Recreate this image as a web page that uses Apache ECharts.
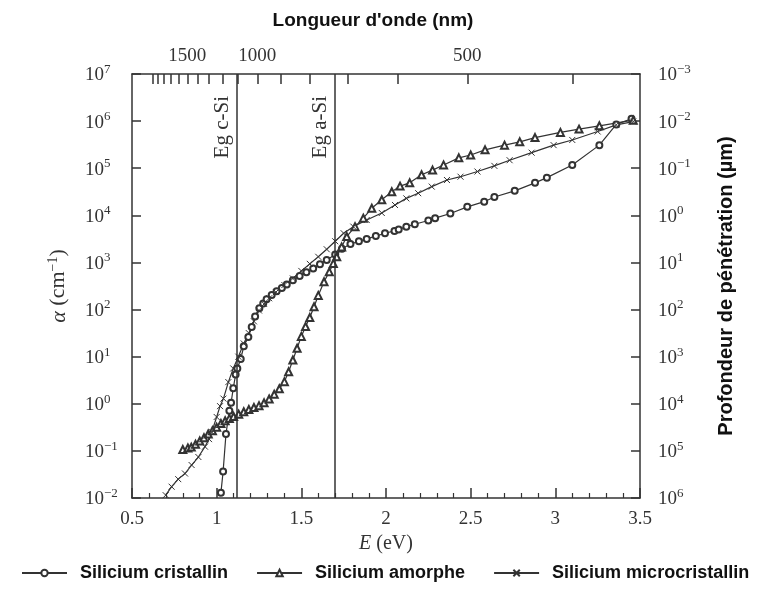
<!DOCTYPE html>
<html>
<head>
<meta charset="utf-8">
<script src="https://cdn.jsdelivr.net/npm/echarts@6/dist/echarts.min.js"></script>
<style>html,body{margin:0;padding:0;background:#fff;}#c{width:765px;height:592px;}</style>
</head>
<body>
<div id="c"></div>
<script>
// ---- data (E in eV, log10 of alpha in cm^-1) ----
const cSiE = [1.025,1.038,1.055,1.075,1.085,1.098,1.112,1.122,1.142,1.16,1.187,1.207,1.227,1.252,1.275,1.295,1.325,1.354,1.385,1.414,1.45,1.49,1.53,1.57,1.61,1.65,1.70,1.74,1.79,1.84,1.886,1.94,1.994,2.05,2.075,2.12,2.17,2.25,2.29,2.38,2.48,2.58,2.64,2.76,2.88,2.95,3.10,3.26,3.36,3.45];
const cSiLogA = [-1.89,-1.44,-0.64,-0.15,0.02,0.33,0.62,0.75,0.95,1.22,1.42,1.63,1.85,2.03,2.13,2.22,2.31,2.39,2.46,2.53,2.62,2.71,2.79,2.87,2.96,3.05,3.17,3.29,3.39,3.45,3.50,3.56,3.62,3.67,3.70,3.76,3.81,3.89,3.94,4.04,4.18,4.29,4.39,4.52,4.69,4.80,5.07,5.49,5.93,6.05];

const aSiE = [0.80,0.83,0.85,0.875,0.90,0.925,0.95,0.975,1.00,1.025,1.05,1.075,1.10,1.13,1.16,1.19,1.22,1.25,1.28,1.31,1.34,1.37,1.40,1.425,1.45,1.475,1.50,1.525,1.55,1.575,1.60,1.634,1.665,1.689,1.709,1.738,1.768,1.817,1.866,1.916,1.975,2.034,2.083,2.14,2.21,2.275,2.34,2.43,2.50,2.585,2.70,2.79,2.88,3.03,3.14,3.26,3.46];
const aSiLogA = [-0.97,-0.94,-0.92,-0.86,-0.79,-0.72,-0.64,-0.57,-0.50,-0.42,-0.36,-0.31,-0.27,-0.22,-0.17,-0.12,-0.08,-0.04,0.02,0.10,0.20,0.32,0.47,0.68,0.93,1.18,1.43,1.64,1.83,2.06,2.30,2.59,2.80,2.98,3.12,3.33,3.55,3.76,3.94,4.15,4.33,4.50,4.62,4.69,4.86,4.96,5.07,5.22,5.28,5.39,5.49,5.56,5.65,5.76,5.83,5.90,6.02];

const ucSiE = [0.699,0.734,0.773,0.813,0.852,0.892,0.931,0.955,0.971,1.0,1.02,1.04,1.069,1.098,1.128,1.16,1.19,1.22,1.25,1.28,1.31,1.35,1.40,1.45,1.50,1.55,1.60,1.65,1.70,1.75,1.807,1.886,1.975,2.053,2.12,2.19,2.27,2.36,2.44,2.54,2.64,2.73,2.86,2.99,3.10,3.25,3.36,3.46];
const ucSiLogA = [-1.94,-1.76,-1.60,-1.48,-1.30,-1.13,-0.91,-0.75,-0.60,-0.28,-0.05,0.11,0.46,0.75,1.0,1.28,1.50,1.75,1.98,2.12,2.24,2.37,2.52,2.66,2.82,2.97,3.12,3.28,3.45,3.62,3.76,3.90,4.05,4.22,4.36,4.47,4.61,4.75,4.82,4.93,5.05,5.17,5.33,5.49,5.60,5.78,5.92,5.99];

const seriesNames = ['Silicium cristallin', 'Silicium amorphe', 'Silicium microcristallin'];
const gapE = [1.12, 1.7];
const gapLabels = ['Eg c-Si', 'Eg a-Si'];
const wavelengthTicks = [400,500,600,700,800,900,1000,1100,1200,1300,1400,1500,1600,1700,1800,1900,2000];
const wavelengthLabels = [1500, 1000, 500];
const HC = 1240; // eV·nm

function pts(E, L) { return E.map((e, i) => [e, Math.pow(10, L[i])]); }

const SERIF = '"Liberation Serif","DejaVu Serif",serif';
const SANS = '"Liberation Sans",Arial,sans-serif';
const INK = '#333';

function powLabel(v) {
  const e = Math.round(Math.log10(v));
  const s = (e < 0 ? '\u2212' + (-e) : '' + e);
  return '{b|10}{s|' + s + '}';
}
const powRich = {
  b: { fontSize: 19, fontFamily: SERIF, color: INK, verticalAlign: 'bottom' },
  s: { fontSize: 13, fontFamily: SERIF, color: INK, verticalAlign: 'bottom', padding: [0, 0, 9, 0] }
};

const chart = echarts.init(document.getElementById('c'), null, { renderer: 'canvas' });

const lineCommon = {
  type: 'line',
  symbolSize: 6,
  lineStyle: { color: INK, width: 1.2 },
  itemStyle: { color: INK, borderColor: INK, borderWidth: 1 },
  emphasis: { disabled: true },
  animation: false
};

chart.setOption({
  animation: false,
  backgroundColor: '#fff',
  grid: { left: 132, right: 125, top: 74, bottom: 94 },
  legend: {
    bottom: 5,
    left: 16,
    itemWidth: 45,
    itemHeight: 8,
    itemGap: 28,
    textStyle: { fontFamily: SANS, fontWeight: 'bold', fontSize: 18, color: '#111', padding: [0, 0, 0, 8] },
    data: seriesNames
  },
  xAxis: [
    {
      type: 'value', min: 0.5, max: 3.5, interval: 0.5, position: 'bottom',
      name: '{i|E} (eV)', nameLocation: 'middle', nameGap: 36,
      nameTextStyle: { fontFamily: SERIF, fontSize: 20, color: INK, rich: { i: { fontStyle: 'italic', fontFamily: SERIF, fontSize: 20, color: INK } } },
      axisLine: { lineStyle: { color: INK, width: 1.5 } },
      axisTick: { inside: true, length: 10, lineStyle: { color: INK, width: 1.5 } },
      minorTick: { show: true, splitNumber: 5, length: 5, lineStyle: { color: INK, width: 1.2 } },
      axisLabel: { fontFamily: SERIF, fontSize: 19, color: INK, margin: 12,
        formatter: v => (Math.abs(v - Math.round(v)) < 1e-9 ? String(Math.round(v)) : String(v)) },
      splitLine: { show: false }
    },
    {
      type: 'value', min: 0.5, max: 3.5, position: 'top',
      name: "Longueur d'onde (nm)", nameLocation: 'middle', nameGap: 44,
      nameTextStyle: { fontFamily: SANS, fontWeight: 'bold', fontSize: 19, color: '#111', padding: [0, 26, 0, 0] },
      axisLine: { lineStyle: { color: INK, width: 1.5 } },
      axisTick: { inside: true, length: 10, lineStyle: { color: INK, width: 1.5 },
        customValues: wavelengthTicks.map(l => HC / l) },
      axisLabel: { fontFamily: SERIF, fontSize: 19, color: INK, margin: 8,
        customValues: wavelengthLabels.map(l => HC / l),
        formatter: v => String(Math.round(HC / v / 10) * 10) },
      splitLine: { show: false }
    }
  ],
  yAxis: [
    {
      type: 'log', logBase: 10, min: 1e-2, max: 1e7, splitNumber: 10,
      name: '{i|\u03b1} (cm{s|\u22121})', nameLocation: 'middle', nameGap: 62, nameRotate: 90,
      nameTextStyle: { fontFamily: SERIF, fontSize: 22, color: INK, verticalAlign: 'bottom',
        rich: { i: { fontStyle: 'italic', fontFamily: SERIF, fontSize: 22, color: INK, verticalAlign: 'bottom' },
                s: { fontFamily: SERIF, fontSize: 14, color: INK, verticalAlign: 'bottom', padding: [0, 0, 10, 0] } } },
      axisLine: { show: true, lineStyle: { color: INK, width: 1.5 } },
      axisTick: { show: true, inside: true, length: 9, lineStyle: { color: INK, width: 1.5 } },
      minorTick: { show: false },
      axisLabel: { align: 'left', margin: 47, formatter: powLabel, rich: powRich },
      splitLine: { show: false }
    },
    {
      type: 'log', logBase: 10, min: 1e-3, max: 1e6, inverse: true, splitNumber: 10, position: 'right',
      name: 'Profondeur de p\u00e9n\u00e9tration (\u00b5m)', nameLocation: 'middle', nameGap: 76, nameRotate: 90,
      nameTextStyle: { fontFamily: SANS, fontWeight: 'bold', fontSize: 20, color: '#111' },
      axisLine: { show: true, lineStyle: { color: INK, width: 1.5 } },
      axisTick: { show: true, inside: true, length: 9, lineStyle: { color: INK, width: 1.5 } },
      minorTick: { show: false },
      axisLabel: { margin: 18, formatter: powLabel, rich: powRich },
      splitLine: { show: false }
    }
  ],
  series: [
    Object.assign({}, lineCommon, {
      name: seriesNames[0], symbol: 'emptyCircle', data: pts(cSiE, cSiLogA),
      markLine: {
        silent: true, symbol: ['none', 'none'], animation: false,
        lineStyle: { color: INK, width: 1.5, type: 'solid' },
        label: { show: true, position: 'insideEndTop', distance: [22, 4], fontFamily: SERIF, fontSize: 21, color: INK },
        data: gapE.map((e, i) => ({ xAxis: e, label: { formatter: gapLabels[i] } }))
      }
    }),
    Object.assign({}, lineCommon, {
      name: seriesNames[1], symbol: 'emptyTriangle', symbolSize: 7, data: pts(aSiE, aSiLogA)
    }),
    Object.assign({}, lineCommon, {
      name: seriesNames[2], symbol: 'path://M0,0L10,10M10,0L0,10', symbolSize: 6,
      itemStyle: { color: 'none', borderColor: INK, borderWidth: 1 },
      data: pts(ucSiE, ucSiLogA)
    })
  ]
});
</script>
</body>
</html>
